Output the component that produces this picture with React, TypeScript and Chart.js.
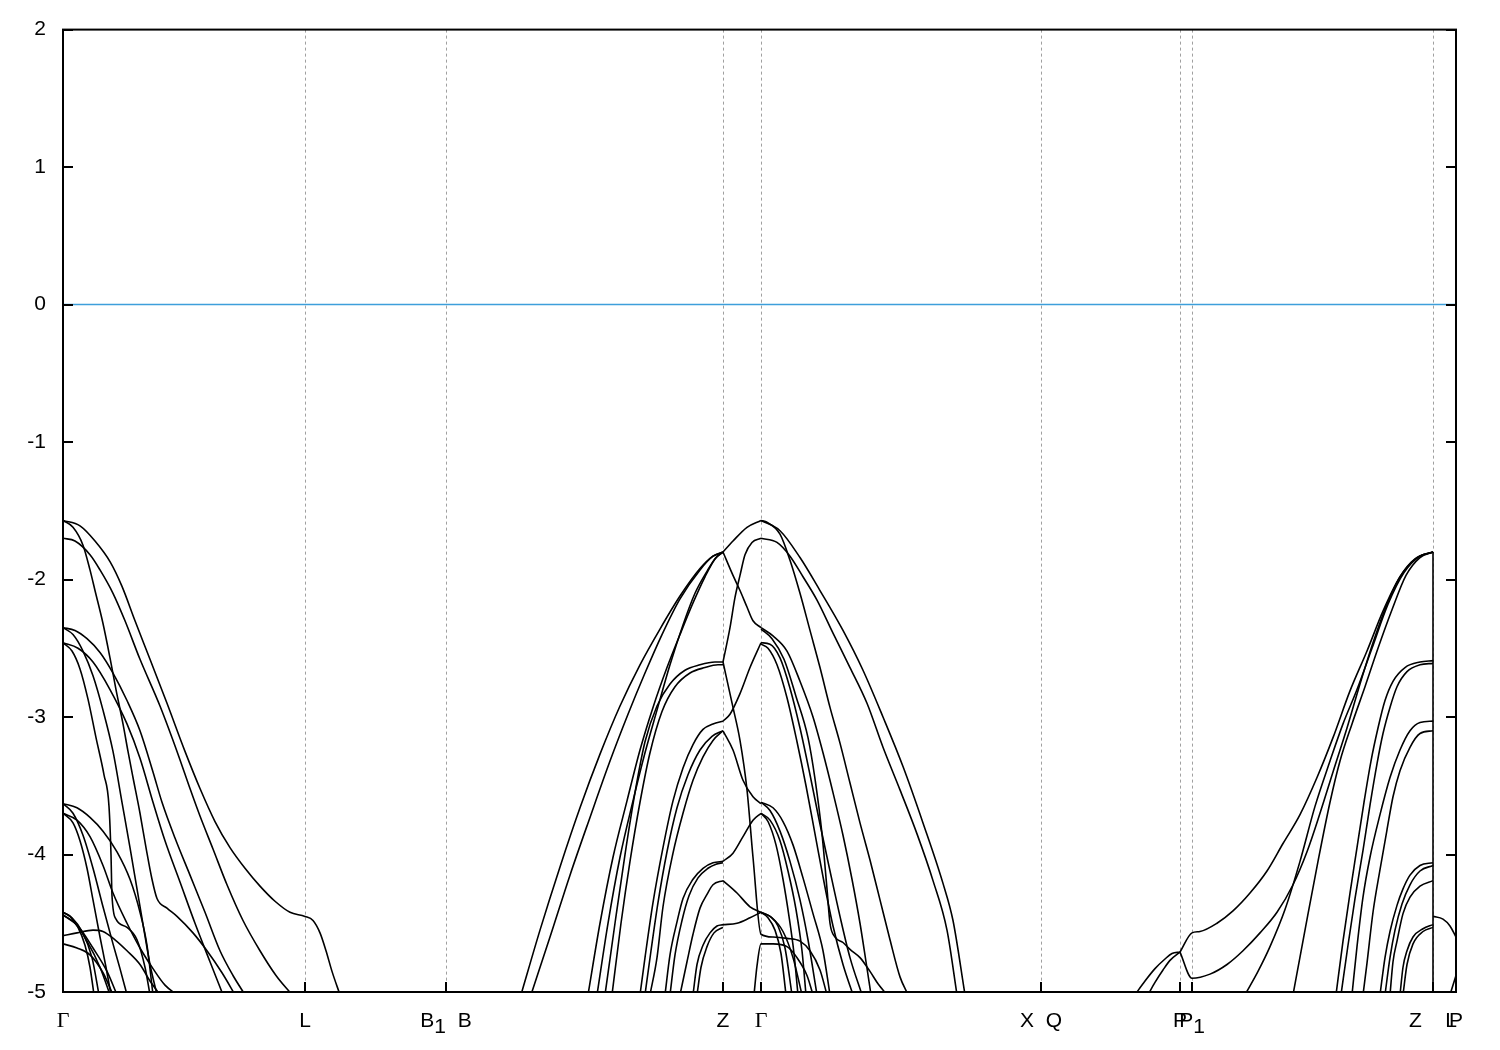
import { useEffect, useRef } from "react";
import { Chart, registerables } from "chart.js";

Chart.register(...registerables);

type P = [number, number];

// ---- k-path ticks (path length units) ----
const K_TICKS = [0, 0.242, 0.383, 0.66, 0.698, 0.978, 1.117, 1.129, 1.37, 1.393];
const K_GRID = [0.242, 0.383, 0.66, 0.698, 0.978, 1.117, 1.129, 1.37];
const K_LABELS: [string, number][][] = [
  [["Γ", 0]],
  [["L", 0]],
  [["B", 0], ["1", 1], ["  B", 0]],
  [["Z", 0]],
  [["Γ", 0]],
  [["X  Q", 0]],
  [["P", 0]],
  [["P", 0], ["1", 1]],
  [["Z    L", 0]],
  [["P", 0]],
];
const Y_TICKS = [2, 1, 0, -1, -2, -3, -4, -5];
const E_MIN = -5;
const E_MAX = 2;
const K_MAX = 1.393;

// ---- Fermi level ----
const FERMI: P[] = [[0, 0], [1.393, 0]];

// ---- Γ – L ----
const G1: P[] = [[0,-1.57],[.017,-1.61],[.032,-1.72],[.047,-1.87],[.059,-2.05],[.072,-2.3],[.087,-2.58],[.104,-2.9],[.122,-3.25],[.137,-3.52],[.152,-3.76],[.167,-3.95],[.182,-4.1],[.197,-4.23],[.212,-4.34],[.227,-4.42],[.242,-4.45],[.25,-4.48],[.257,-4.57],[.263,-4.7],[.269,-4.85],[.277,-5.02]];
const G2: P[] = [[0,-1.7],[.012,-1.72],[.027,-1.82],[.037,-1.93],[.05,-2.1],[.062,-2.3],[.077,-2.58],[.097,-2.92],[.115,-3.27],[.127,-3.52],[.137,-3.72],[.15,-3.96],[.164,-4.22],[.18,-4.48],[.197,-4.7],[.213,-4.88],[.229,-5.02]];
const G3: P[] = [[0,-1.57],[.01,-1.62],[.02,-1.75],[.027,-1.93],[.032,-2.08],[.04,-2.32],[.047,-2.57],[.053,-2.8],[.06,-3.05],[.065,-3.25],[.07,-3.44],[.077,-3.7],[.083,-3.95],[.089,-4.18],[.094,-4.32],[.104,-4.39],[.114,-4.45],[.13,-4.57],[.144,-4.7],[.159,-4.86],[.172,-5.02]];
const GA: P[] = [[0,-2.35],[.012,-2.37],[.024,-2.43],[.037,-2.53],[.05,-2.68],[.064,-2.88],[.077,-3.1],[.09,-3.4],[.099,-3.62],[.112,-3.88],[.127,-4.15],[.142,-4.42],[.157,-4.7],[.17,-4.88],[.182,-5.02]];
const GC: P[] = [[0,-2.46],[.015,-2.5],[.03,-2.6],[.047,-2.8],[.064,-3.05],[.077,-3.3],[.09,-3.62],[.102,-3.9],[.117,-4.2],[.132,-4.5],[.147,-4.78],[.16,-5.02]];
const GB: P[] = [[0,-2.35],[.01,-2.4],[.02,-2.52],[.03,-2.7],[.04,-2.95],[.05,-3.25],[.059,-3.62],[.067,-3.95],[.074,-4.25],[.081,-4.55],[.087,-4.8],[.094,-5.02]];
const GD: P[] = [[0,-2.46],[.009,-2.52],[.017,-2.65],[.025,-2.87],[.033,-3.15],[.041,-3.42],[.046,-3.65],[.048,-4.0],[.049,-4.3],[.053,-4.47],[.064,-4.53],[.074,-4.62],[.082,-4.82],[.087,-5.02]];
const GL1: P[] = [[0,-3.63],[.014,-3.66],[.027,-3.73],[.04,-3.83],[.054,-3.98],[.067,-4.18],[.077,-4.42],[.084,-4.66],[.09,-5.02]];
const GL2: P[] = [[0,-3.63],[.01,-3.7],[.02,-3.86],[.03,-4.1],[.04,-4.38],[.05,-4.65],[.057,-4.83],[.064,-5.02]];
const GL3: P[] = [[0,-3.7],[.014,-3.75],[.027,-3.87],[.04,-4.08],[.05,-4.28],[.064,-4.5],[.077,-4.68],[.09,-4.83],[.102,-4.95],[.114,-5.02]];
const GL4: P[] = [[0,-3.7],[.01,-3.77],[.017,-3.9],[.024,-4.1],[.03,-4.33],[.037,-4.6],[.043,-4.82],[.048,-5.02]];
const GS1: P[] = [[0,-4.59],[.014,-4.57],[.03,-4.55],[.04,-4.56],[.052,-4.62],[.064,-4.7],[.077,-4.8],[.087,-4.92],[.097,-5.02]];
const GS2: P[] = [[0,-4.65],[.014,-4.68],[.027,-4.73],[.04,-4.86],[.05,-5.02]];
const GC1: P[] = [[0,-4.42],[.007,-4.45],[.015,-4.53],[.022,-4.66],[.027,-4.82],[.031,-5.02]];
const GC2: P[] = [[0,-4.42],[.009,-4.46],[.019,-4.56],[.029,-4.75],[.036,-5.02]];
const GC3: P[] = [[0,-4.44],[.012,-4.5],[.024,-4.63],[.037,-4.82],[.047,-5.02]];
const GC4: P[] = [[0,-4.44],[.015,-4.52],[.03,-4.68],[.044,-4.85],[.054,-5.02]];

// ---- B – Z ----
const Z1: P[] = [[.458,-5.02],[.477,-4.55],[.497,-4.09],[.517,-3.66],[.537,-3.27],[.557,-2.92],[.577,-2.62],[.597,-2.36],[.617,-2.12],[.637,-1.92],[.65,-1.83],[.66,-1.8]];
const Z2: P[] = [[.468,-5.02],[.487,-4.6],[.507,-4.15],[.527,-3.73],[.547,-3.32],[.565,-2.98],[.582,-2.68],[.599,-2.4],[.617,-2.14],[.637,-1.93],[.65,-1.83],[.66,-1.8]];
const Z3: P[] = [[.525,-5.02],[.537,-4.5],[.55,-4.02],[.564,-3.61],[.577,-3.24],[.59,-2.93],[.604,-2.64],[.617,-2.4],[.63,-2.17],[.642,-1.98],[.652,-1.85],[.66,-1.8]];
const Z4: P[] = [[.534,-5.02],[.545,-4.5],[.557,-4.02],[.57,-3.61],[.582,-3.26],[.594,-2.95],[.607,-2.62],[.62,-2.33],[.632,-2.1],[.644,-1.94],[.653,-1.84],[.66,-1.8]];
const Z5: P[] = [[.542,-5.02],[.552,-4.5],[.562,-4.0],[.572,-3.55],[.582,-3.18],[.594,-2.92],[.607,-2.76],[.622,-2.66],[.637,-2.62],[.652,-2.6],[.66,-2.6]];
const Z6: P[] = [[.549,-5.02],[.558,-4.5],[.567,-4.05],[.577,-3.62],[.587,-3.26],[.599,-2.96],[.612,-2.78],[.627,-2.68],[.642,-2.64],[.655,-2.62],[.66,-2.62]];
const Z7: P[] = [[.577,-5.02],[.582,-4.75],[.59,-4.35],[.6,-3.95],[.61,-3.61],[.62,-3.37],[.63,-3.2],[.64,-3.09],[.65,-3.05],[.66,-3.03]];
const Z8: P[] = [[.582,-5.02],[.588,-4.7],[.595,-4.35],[.604,-3.98],[.614,-3.66],[.625,-3.42],[.637,-3.24],[.649,-3.14],[.66,-3.1]];
const Z9: P[] = [[.587,-5.02],[.594,-4.75],[.6,-4.38],[.61,-3.99],[.62,-3.7],[.63,-3.46],[.64,-3.29],[.65,-3.17],[.66,-3.1]];
const Z10: P[] = [[.602,-5.02],[.607,-4.73],[.614,-4.49],[.62,-4.32],[.63,-4.18],[.64,-4.1],[.65,-4.06],[.66,-4.05]];
const Z11: P[] = [[.607,-5.02],[.612,-4.73],[.619,-4.48],[.626,-4.3],[.635,-4.17],[.645,-4.1],[.653,-4.07],[.66,-4.06]];
const Z12: P[] = [[.617,-5.02],[.624,-4.78],[.63,-4.58],[.637,-4.39],[.644,-4.29],[.65,-4.22],[.66,-4.19]];
const Z13: P[] = [[.63,-5.02],[.634,-4.8],[.64,-4.66],[.647,-4.57],[.654,-4.52],[.66,-4.51]];
const Z14: P[] = [[.634,-5.02],[.638,-4.82],[.644,-4.67],[.651,-4.57],[.66,-4.53]];

// ---- Z – Γ ----
const ZG1: P[] = [[.66,-1.8],[.67,-1.72],[.684,-1.62],[.698,-1.57]];
const ZG2: P[] = [[.66,-1.8],[.67,-1.97],[.677,-2.08],[.684,-2.2],[.69,-2.3],[.698,-2.35]];
const ZG3: P[] = [[.66,-2.6],[.667,-2.35],[.672,-2.13],[.677,-1.97],[.682,-1.82],[.689,-1.73],[.698,-1.7]];
const ZG4: P[] = [[.66,-2.6],[.67,-2.93],[.677,-3.17],[.684,-3.53],[.69,-4.02],[.698,-4.58],[.71,-4.6],[.724,-4.61],[.737,-4.63],[.747,-4.7],[.757,-4.84],[.764,-5.02]];
const ZG5: P[] = [[.66,-3.03],[.667,-2.98],[.677,-2.83],[.687,-2.64],[.698,-2.46]];
const ZG6: P[] = [[.66,-3.1],[.67,-3.24],[.68,-3.46],[.69,-3.58],[.698,-3.63]];
const ZG7: P[] = [[.66,-4.05],[.67,-3.99],[.68,-3.87],[.69,-3.75],[.698,-3.7]];
const ZG8: P[] = [[.66,-4.19],[.674,-4.28],[.687,-4.38],[.698,-4.42]];
const ZG9: P[] = [[.66,-4.51],[.674,-4.5],[.687,-4.46],[.698,-4.42]];
const ZG10: P[] = [[.691,-5.02],[.694,-4.81],[.698,-4.65],[.71,-4.65],[.724,-4.67],[.734,-4.75],[.744,-4.88],[.75,-5.02]];

// ---- Γ – X ----
const E1: P[] = [[.698,-1.57],[.717,-1.645],[.737,-1.84],[.757,-2.08],[.78,-2.37],[.8,-2.66],[.82,-3.0],[.84,-3.36],[.86,-3.77],[.88,-4.21],[.89,-4.48],[.902,-5.02]];
const E2: P[] = [[.698,-1.7],[.714,-1.73],[.727,-1.83],[.74,-1.98],[.754,-2.15],[.77,-2.39],[.787,-2.64],[.804,-2.9],[.82,-3.22],[.837,-3.53],[.854,-3.85],[.87,-4.19],[.884,-4.55],[.894,-5.02]];
const E3: P[] = [[.698,-1.57],[.703,-1.58],[.717,-1.67],[.727,-1.86],[.737,-2.1],[.747,-2.37],[.757,-2.64],[.767,-2.93],[.777,-3.19],[.787,-3.48],[.797,-3.77],[.807,-4.04],[.817,-4.33],[.827,-4.62],[.837,-4.89],[.845,-5.02]];
const GM1: P[] = [[.698,-2.35],[.71,-2.41],[.724,-2.52],[.737,-2.74],[.75,-3.0],[.76,-3.26],[.77,-3.55],[.78,-3.86],[.789,-4.18],[.797,-4.5],[.803,-4.78],[.808,-5.02]];
const GM2: P[] = [[.698,-2.36],[.709,-2.43],[.721,-2.58],[.733,-2.85],[.745,-3.15],[.752,-3.45],[.759,-3.85],[.764,-4.25],[.767,-4.5],[.772,-4.6],[.78,-4.64],[.787,-4.69],[.797,-4.75],[.807,-4.85],[.815,-4.94],[.824,-5.02]];
const GM3: P[] = [[.698,-2.46],[.707,-2.47],[.717,-2.57],[.727,-2.79],[.737,-3.08],[.747,-3.42],[.757,-3.78],[.767,-4.12],[.777,-4.45],[.787,-4.75],[.799,-5.02]];
const GM4: P[] = [[.698,-2.47],[.705,-2.5],[.714,-2.62],[.724,-2.86],[.734,-3.18],[.743,-3.5],[.752,-3.85],[.761,-4.2],[.77,-4.52],[.78,-4.8],[.79,-5.02]];
const GR1: P[] = [[.698,-3.62],[.71,-3.66],[.72,-3.76],[.73,-3.93],[.74,-4.17],[.75,-4.43],[.76,-4.7],[.767,-5.02]];
const GR2: P[] = [[.698,-3.62],[.707,-3.68],[.717,-3.83],[.727,-4.05],[.737,-4.33],[.745,-4.62],[.754,-5.02]];
const GR3: P[] = [[.698,-3.7],[.707,-3.75],[.717,-3.9],[.725,-4.12],[.733,-4.4],[.739,-4.7],[.743,-5.02]];
const GR4: P[] = [[.698,-3.7],[.705,-3.76],[.713,-3.93],[.72,-4.18],[.726,-4.45],[.731,-4.72],[.735,-5.02]];
const GX1: P[] = [[.698,-4.42],[.705,-4.46],[.712,-4.55],[.718,-4.72],[.723,-5.02]];
const GX2: P[] = [[.698,-4.42],[.707,-4.45],[.715,-4.52],[.722,-4.68],[.729,-5.02]];
const GX3: P[] = [[.698,-4.42],[.709,-4.46],[.72,-4.56],[.73,-4.75],[.739,-5.02]];

// ---- Q – P – P1 – Z ----
const PH1: P[] = [[1.072,-5.02],[1.082,-4.92],[1.092,-4.83],[1.102,-4.76],[1.109,-4.72],[1.117,-4.71]];
const PH2: P[] = [[1.085,-5.02],[1.092,-4.93],[1.1,-4.84],[1.107,-4.77],[1.117,-4.71]];
const R1: P[] = [[1.117,-4.71],[1.129,-4.57],[1.137,-4.56],[1.154,-4.5],[1.17,-4.41],[1.187,-4.28],[1.204,-4.12],[1.22,-3.92],[1.237,-3.71],[1.254,-3.44],[1.27,-3.15],[1.287,-2.81],[1.304,-2.52],[1.32,-2.23],[1.337,-1.98],[1.354,-1.84],[1.37,-1.8]];
const R2: P[] = [[1.117,-4.71],[1.129,-4.9],[1.147,-4.87],[1.164,-4.8],[1.18,-4.7],[1.197,-4.57],[1.214,-4.42],[1.23,-4.22],[1.244,-3.98],[1.257,-3.7],[1.27,-3.4],[1.284,-3.08],[1.297,-2.76],[1.31,-2.46],[1.324,-2.18],[1.337,-1.98],[1.352,-1.85],[1.37,-1.8]];
const R3: P[] = [[1.182,-5.02],[1.195,-4.85],[1.207,-4.67],[1.222,-4.4],[1.237,-4.05],[1.252,-3.65],[1.267,-3.32],[1.28,-3.05],[1.294,-2.8],[1.309,-2.5],[1.325,-2.18],[1.341,-1.95],[1.357,-1.83],[1.37,-1.8]];
const R4: P[] = [[1.23,-5.02],[1.242,-4.55],[1.255,-4.05],[1.267,-3.62],[1.277,-3.32],[1.289,-3.05],[1.302,-2.78],[1.315,-2.5],[1.329,-2.22],[1.343,-1.97],[1.357,-1.84],[1.37,-1.8]];
const RP1: P[] = [[1.273,-5.02],[1.28,-4.63],[1.287,-4.28],[1.294,-3.95],[1.301,-3.62],[1.308,-3.32],[1.315,-3.08],[1.322,-2.88],[1.33,-2.74],[1.342,-2.64],[1.357,-2.6],[1.37,-2.59]];
const RP2: P[] = [[1.278,-5.02],[1.285,-4.66],[1.292,-4.32],[1.3,-3.97],[1.307,-3.64],[1.314,-3.34],[1.32,-3.12],[1.327,-2.93],[1.334,-2.78],[1.344,-2.67],[1.357,-2.62],[1.37,-2.61]];
const RT1: P[] = [[1.289,-5.02],[1.294,-4.67],[1.3,-4.31],[1.307,-4.02],[1.317,-3.71],[1.327,-3.44],[1.337,-3.24],[1.347,-3.1],[1.357,-3.04],[1.37,-3.03]];
const RT2: P[] = [[1.3,-5.02],[1.304,-4.79],[1.31,-4.42],[1.317,-4.11],[1.324,-3.82],[1.33,-3.58],[1.337,-3.39],[1.347,-3.22],[1.357,-3.12],[1.37,-3.1]];
const RL1: P[] = [[1.317,-5.02],[1.322,-4.75],[1.327,-4.56],[1.334,-4.37],[1.34,-4.25],[1.347,-4.15],[1.357,-4.08],[1.37,-4.06]];
const RL2: P[] = [[1.322,-5.02],[1.327,-4.75],[1.332,-4.55],[1.339,-4.36],[1.347,-4.22],[1.357,-4.12],[1.37,-4.08]];
const RL3: P[] = [[1.327,-5.02],[1.33,-4.78],[1.334,-4.63],[1.34,-4.43],[1.347,-4.31],[1.357,-4.23],[1.37,-4.19]];
const RL4: P[] = [[1.337,-5.02],[1.34,-4.82],[1.344,-4.7],[1.35,-4.6],[1.36,-4.54],[1.37,-4.51]];
const RL5: P[] = [[1.34,-5.02],[1.344,-4.8],[1.35,-4.65],[1.36,-4.56],[1.37,-4.53]];

// ---- Z|L – P ----
const ZL_JUMP: P[] = [[1.37,-1.8],[1.37,-5.02]];
const LP1: P[] = [[1.37,-4.45],[1.38,-4.47],[1.387,-4.52],[1.393,-4.6]];
const LP2: P[] = [[1.387,-5.02],[1.393,-4.88]];

const BANDS: P[][] = [
  G1, G2, G3, GA, GC, GB, GD, GL1, GL2, GL3, GL4, GS1, GS2, GC1, GC2, GC3, GC4,
  Z1, Z2, Z3, Z4, Z5, Z6, Z7, Z8, Z9, Z10, Z11, Z12, Z13, Z14,
  ZG1, ZG2, ZG3, ZG4, ZG5, ZG6, ZG7, ZG8, ZG9, ZG10,
  E1, E2, E3, GM1, GM2, GM3, GM4, GR1, GR2, GR3, GR4, GX1, GX2, GX3,
  PH1, PH2, R1, R2, R3, R4, RP1, RP2, RT1, RT2, RL1, RL2, RL3, RL4, RL5,
  ZL_JUMP, LP1, LP2,
];

const SANS = '"Liberation Sans", Arial, sans-serif';
const SERIF = '"Liberation Serif", "DejaVu Serif", serif';

const framePlugin = {
  id: "frame",
  beforeDatasetsDraw(chart: any) {
    const { ctx, chartArea: a, scales } = chart;
    const x = scales.x;
    ctx.save();
    ctx.strokeStyle = "#a0a0a0";
    ctx.lineWidth = 1;
    ctx.setLineDash([3, 3]);
    for (const k of K_GRID) {
      const px = Math.round(x.getPixelForValue(k)) + 0.5;
      ctx.beginPath();
      ctx.moveTo(px, a.top);
      ctx.lineTo(px, a.bottom);
      ctx.stroke();
    }
    ctx.restore();
  },
  afterDatasetsDraw(chart: any) {
    const { ctx, chartArea: a, scales } = chart;
    const x = scales.x;
    const y = scales.y;
    ctx.save();
    ctx.strokeStyle = "#000";
    ctx.lineWidth = 2;
    ctx.setLineDash([]);
    ctx.strokeRect(a.left, a.top, a.right - a.left, a.bottom - a.top);
    ctx.beginPath();
    for (const v of Y_TICKS) {
      const py = Math.round(y.getPixelForValue(v));
      ctx.moveTo(a.left, py);
      ctx.lineTo(a.left + 10, py);
      ctx.moveTo(a.right, py);
      ctx.lineTo(a.right - 10, py);
    }
    for (const k of K_TICKS) {
      const px = Math.round(x.getPixelForValue(k));
      ctx.moveTo(px, a.bottom);
      ctx.lineTo(px, a.bottom - 10);
    }
    ctx.stroke();

    // x labels
    ctx.fillStyle = "#000";
    ctx.textBaseline = "alphabetic";
    ctx.textAlign = "left";
    const base = a.bottom + 35;
    K_TICKS.forEach((k, i) => {
      const parts = K_LABELS[i];
      const fontFor = (t: string) => (t.includes("Γ") ? `22px ${SERIF}` : `21px ${SANS}`);
      let total = 0;
      const widths = parts.map(([t]) => {
        ctx.font = fontFor(t);
        const w = ctx.measureText(t).width;
        total += w;
        return w;
      });
      let cx = x.getPixelForValue(k) - total / 2;
      parts.forEach(([t, sub], j) => {
        ctx.font = fontFor(t);
        ctx.fillText(t, cx, base + (sub ? 6 : 0));
        cx += widths[j];
      });
    });
    ctx.restore();
  },
};

export default function App() {
  const ref = useRef<HTMLCanvasElement>(null);
  useEffect(() => {
    if (!ref.current) return;
    const bandSets = BANDS.map((b) => ({
      data: b.map(([k, e]) => ({ x: k, y: e })),
      borderColor: "#000",
      borderWidth: 1.6,
      pointRadius: 0,
      fill: false,
      cubicInterpolationMode: b.length > 2 ? ("monotone" as const) : ("default" as const),
      tension: 0,
    }));
    const fermiSet = {
      data: FERMI.map(([k, e]) => ({ x: k, y: e })),
      borderColor: "#3d9fdb",
      borderWidth: 1.6,
      pointRadius: 0,
      fill: false,
    };
    const chart = new Chart(ref.current, {
      type: "line",
      data: { datasets: [fermiSet, ...bandSets] as any },
      options: {
        responsive: false,
        animation: false,
        devicePixelRatio: 1,
        events: [],
        layout: { padding: { left: 0, right: 44, top: 28, bottom: 0 } },
        plugins: { legend: { display: false }, tooltip: { enabled: false } },
        scales: {
          x: {
            type: "linear",
            min: 0,
            max: K_MAX,
            grid: { display: false },
            border: { display: false },
            ticks: { display: false },
            afterFit: (s: any) => {
              s.height = 58;
            },
          },
          y: {
            type: "linear",
            min: E_MIN,
            max: E_MAX,
            grid: { display: false, drawTicks: false },
            border: { display: false },
            afterBuildTicks: (s: any) => {
              s.ticks = Y_TICKS.map((v) => ({ value: v }));
            },
            ticks: {
              color: "#000",
              padding: 17,
              font: { family: SANS, size: 21 },
              callback: (v: any) => String(v),
            },
            afterFit: (s: any) => {
              s.width = 63;
            },
          },
        },
      },
      plugins: [framePlugin],
    });
    return () => chart.destroy();
  }, []);
  return (
    <div style={{ position: "absolute", left: 0, top: 0, width: 1500, height: 1050, background: "#fff" }}>
      <canvas ref={ref} width={1500} height={1050} />
    </div>
  );
}
